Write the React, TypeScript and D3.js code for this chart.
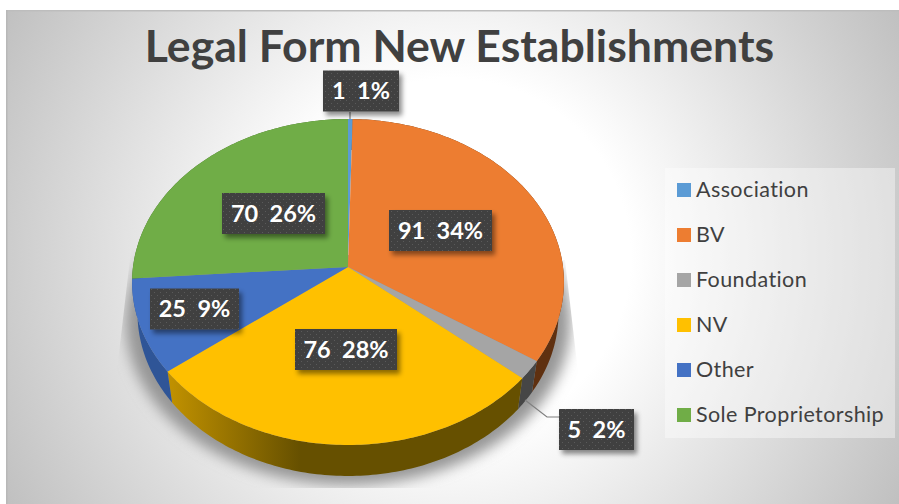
import React from "react";
import * as d3 from "d3";

const categories = ["Association", "BV", "Foundation", "NV", "Other", "Sole Proprietorship"];
const values = [1, 91, 5, 76, 25, 70];
const percents = ["1%", "34%", "2%", "28%", "9%", "26%"];
const colors = ["#5b9bd5", "#ed7d31", "#a5a5a5", "#ffc000", "#4472c4", "#70ad47"];
const rimDark = ["#2f5f8a", "#5f3010", "#464646", "#665000", "#2f5597", "#43682b"];
const rimLight = ["#2f5f8a", "#8a4a1c", "#4a4a4a", "#bf9000", "#2f5597", "#43682b"];

// centre of each value box, same order as categories
const labelCx = [361, 440.5, 596.5, 346, 194.5, 273.5];
const labelCy = [91, 230.5, 429.5, 349.5, 309, 213.5];
const labelW = [76, 103, 75, 102, 89, 103];

const W = 899;
const H = 504;
const cx = 348;
const cy = 267;
const persp = -0.092;
const DEPTH = 31;

// tilted disc with a little perspective, so the apex sits above the ellipse centre
function project(a: number, scale = 1, dy = 0): [number, number] {
  const v = -Math.cos(a);
  const d = 1 + persp * v;
  return [cx + (215 * scale * Math.sin(a)) / d, cy + dy + (161.6 * v) / d];
}

function arcPoints(a0: number, a1: number, scale = 1, dy = 0) {
  const n = Math.max(2, Math.ceil(((a1 - a0) * 180) / Math.PI));
  return d3.range(n + 1).map((i) => project(a0 + ((a1 - a0) * i) / n, scale, dy));
}

const line = d3.line();
const pie = d3.pie<number>().sort(null).startAngle(0).endAngle(2 * Math.PI);
const colorScale = d3.scaleOrdinal<string>().domain(categories).range(colors);

export default function App() {
  const arcs = pie(values);
  const legendY = d3.scalePoint<string>().domain(categories).range([190, 415]);
  const outline = arcPoints(0, 2 * Math.PI, 1.03, 40);

  return (
    <svg
      width={W}
      height={H}
      viewBox={`0 0 ${W} ${H}`}
      style={{ position: "absolute", left: 0, top: 0, display: "block", background: "#fff" }}
    >
      <defs>
        <radialGradient id="bg" gradientUnits="userSpaceOnUse" cx={452} cy={257} r={510}>
          <stop offset="0.35" stopColor="#ffffff" />
          <stop offset="1" stopColor="#c0c0c0" />
        </radialGradient>
        <filter id="blur" x="-20%" y="-20%" width="140%" height="140%">
          <feGaussianBlur stdDeviation="7" />
        </filter>
        <filter id="boxShadow" x="-20%" y="-20%" width="150%" height="160%">
          <feDropShadow dx="3" dy="4" stdDeviation="2.5" floodColor="#000" floodOpacity="0.45" />
        </filter>
        <clipPath id="shadowClip">
          <polygon points="131,250 117,370 117,488 590,488 578,372 565,260" />
        </clipPath>
        <pattern id="dots" width="6" height="6" patternUnits="userSpaceOnUse">
          <rect width="6" height="6" fill="#3f3f3f" />
          <rect x="1" y="1" width="1" height="1" fill="#5a5a5a" />
          <rect x="4" y="4" width="1" height="1" fill="#5a5a5a" />
        </pattern>
        {arcs.map((d, i) => (
          <linearGradient key={i} id={`rim${i}`} gradientUnits="userSpaceOnUse" x1={172} x2={300} y1={0} y2={0}>
            <stop offset="0" stopColor={i === 1 ? rimDark[i] : rimLight[i]} />
            <stop offset="1" stopColor={rimDark[i]} />
          </linearGradient>
        ))}
      </defs>

      <rect x={6} y={10} width={W - 6} height={H - 10} fill="url(#bg)" />
      <rect x={6} y={10} width={W - 6} height={1.5} fill="#bdbdbd" />
      <rect x={6} y={10} width={1.5} height={H - 10} fill="#b8b8b8" />

      <text
        x={459.5}
        y={62}
        textAnchor="middle"
        fontFamily="Lato, sans-serif"
        fontWeight={700}
        fontSize={44.6}
        fill="#404040"
      >
        Legal Form New Establishments
      </text>

      <g clipPath="url(#shadowClip)">
        <path d={line(outline) + "Z"} fill="#969696" filter="url(#blur)" />
      </g>

      {arcs.map((d, i) => {
        const top = arcPoints(d.startAngle, d.endAngle);
        const bottom = arcPoints(d.startAngle, d.endAngle, 0.975, DEPTH).reverse();
        return <path key={i} d={line(top.concat(bottom)) + "Z"} fill={`url(#rim${i})`} />;
      })}

      {arcs.map((d, i) => (
        <path
          key={i}
          d={line(([[cx, cy]] as [number, number][]).concat(arcPoints(d.startAngle, d.endAngle))) + "Z"}
          fill={colorScale(categories[i])}
        />
      ))}

      <path d="M350,112V119" stroke="#7f7f7f" strokeWidth={1.2} fill="none" />
      <path d="M525,400L547,417H559" stroke="#7f7f7f" strokeWidth={1.2} fill="none" />

      {values.map((v, i) => (
        <g key={i}>
          <rect
            x={labelCx[i] - labelW[i] / 2}
            y={labelCy[i] - 20.5}
            width={labelW[i]}
            height={41}
            fill="url(#dots)"
            filter="url(#boxShadow)"
          />
          <text
            x={labelCx[i]}
            y={labelCy[i] + 8}
            textAnchor="middle"
            fontFamily="Lato, sans-serif"
            fontWeight={700}
            fontSize={23.5}
            fill="#fff"
            xmlSpace="preserve"
          >
            {`${v}  ${percents[i]}`}
          </text>
        </g>
      ))}

      <rect x={665} y={168} width={230} height={270} fill="#fff" fillOpacity={0.4} />
      {categories.map((c) => (
        <g key={c}>
          <rect x={677} y={legendY(c)! - 7} width={14} height={14} fill={colorScale(c)} />
          <text
            x={696}
            y={legendY(c)! + 7}
            fontFamily="Lato, sans-serif"
            fontSize={21.5}
            letterSpacing={0.4}
            fill="#404040"
          >
            {c}
          </text>
        </g>
      ))}
    </svg>
  );
}
